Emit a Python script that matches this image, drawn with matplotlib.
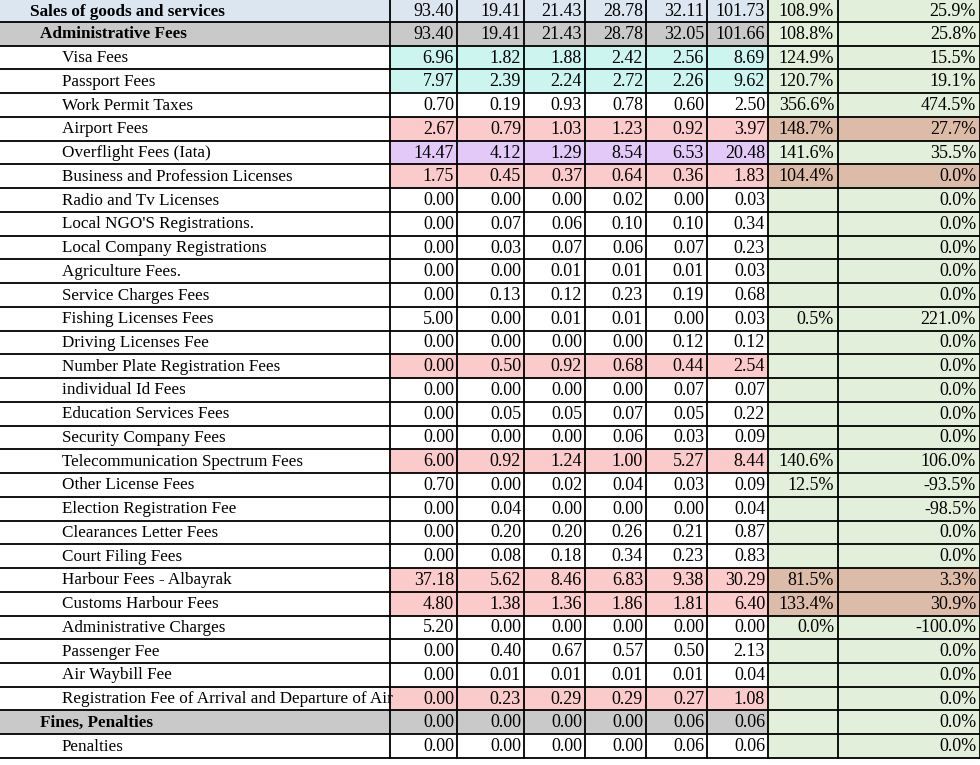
import matplotlib
matplotlib.use("Agg")
import matplotlib.pyplot as plt
from matplotlib.patches import Rectangle

labels = ["Sales of goods and services", "Administrative Fees", "Visa Fees", "Passport Fees",
          "Work Permit Taxes", "Airport Fees", "Overflight Fees (Iata)", "Business and Profession Licenses",
          "Radio and Tv Licenses", "Local NGO'S Registrations.", "Local Company Registrations",
          "Agriculture Fees.", "Service Charges Fees", "Fishing Licenses Fees", "Driving Licenses Fee",
          "Number Plate Registration Fees", "individual Id Fees", "Education Services Fees",
          "Security Company Fees", "Telecommunication Spectrum Fees", "Other License Fees",
          "Election Registration Fee", "Clearances Letter Fees", "Court Filing Fees",
          "Harbour Fees - Albayrak", "Customs Harbour Fees", "Administrative Charges", "Passenger Fee",
          "Air Waybill Fee", "Registration Fee of Arrival and Departure of Air", "Fines, Penalties", "Penalties"]
col1 = [93.40,93.40,6.96,7.97,0.70,2.67,14.47,1.75,0,0,0,0,0,5.00,0,0,0,0,0,6.00,0.70,0,0,0,37.18,4.80,5.20,0,0,0,0,0]
col2 = [19.41,19.41,1.82,2.39,0.19,0.79,4.12,0.45,0,0.07,0.03,0,0.13,0,0,0.50,0,0.05,0,0.92,0,0.04,0.20,0.08,5.62,1.38,0,0.40,0.01,0.23,0,0]
col3 = [21.43,21.43,1.88,2.24,0.93,1.03,1.29,0.37,0,0.06,0.07,0.01,0.12,0.01,0,0.92,0,0.05,0,1.24,0.02,0,0.20,0.18,8.46,1.36,0,0.67,0.01,0.29,0,0]
col4 = [28.78,28.78,2.42,2.72,0.78,1.23,8.54,0.64,0.02,0.10,0.06,0.01,0.23,0.01,0,0.68,0,0.07,0.06,1.00,0.04,0,0.26,0.34,6.83,1.86,0,0.57,0.01,0.29,0,0]
col5 = [32.11,32.05,2.56,2.26,0.60,0.92,6.53,0.36,0,0.10,0.07,0.01,0.19,0,0.12,0.44,0.07,0.05,0.03,5.27,0.03,0,0.21,0.23,9.38,1.81,0,0.50,0.01,0.27,0.06,0.06]
col6 = [101.73,101.66,8.69,9.62,2.50,3.97,20.48,1.83,0.03,0.34,0.23,0.03,0.68,0.03,0.12,2.54,0.07,0.22,0.09,8.44,0.09,0.04,0.87,0.83,30.29,6.40,0,2.13,0.04,1.08,0.06,0.06]
pct1 = [108.9,108.8,124.9,120.7,356.6,148.7,141.6,104.4,None,None,None,None,None,0.5,None,None,None,None,None,140.6,12.5,None,None,None,81.5,133.4,0.0,None,None,None,None,None]
pct2 = [25.9,25.8,15.5,19.1,474.5,27.7,35.5,0.0,0,0,0,0,0,221.0,0,0,0,0,0,106.0,-93.5,-98.5,0,0,3.3,30.9,-100.0,0,0,0,0,0]

indent = [30, 40] + [62]*28 + [40, 62]
bold = {0, 1, 30}
xb = [390, 457, 524, 585, 646, 707, 768, 838, 980]
h0, rh = 22, 23.74
def rowspan(i):
    if i == 0:
        return 0, h0
    a = h0 + (i-1)*rh
    return a, a+rh

BLUE, GRAY, CYAN, PINK, PURP, GREEN, BROWN = "#dce6f1", "#c9c9c9", "#ccf5f0", "#fbcaca", "#e2c9f7", "#e2efda", "#ddbba9"
pink_rows = {5, 7, 15, 19, 24, 25, 29}
num_fill = {0: BLUE, 1: GRAY, 30: GRAY, 2: CYAN, 3: CYAN, 6: PURP}
for r in pink_rows: num_fill[r] = PINK
brown_rows = {5, 7, 24, 25}

fig = plt.figure(figsize=(9.8, 7.65), dpi=100)
ax = fig.add_axes([0, 0, 1, 1])
ax.set_xlim(0, 980); ax.set_ylim(765, 0); ax.axis("off")
font = "Liberation Serif"
cols = [col1, col2, col3, col4, col5, col6]
n = len(labels)
for i in range(n):
    y0, y1 = rowspan(i)
    yc = (y0+y1)/2 + 0.5
    lf = {0: BLUE, 1: GRAY, 30: GRAY}.get(i)
    if lf:
        ax.add_patch(Rectangle((0, y0), xb[0], y1-y0, color=lf, lw=0))
    ax.text(indent[i], yc, labels[i], ha="left", va="center", fontsize=12.3, family=font,
            fontweight="bold" if i in bold else "normal")
    f = num_fill.get(i)
    for j, c in enumerate(cols):
        if f:
            ax.add_patch(Rectangle((xb[j], y0), xb[j+1]-xb[j], y1-y0, color=f, lw=0))
        ax.text(xb[j+1]-3, yc, f"{c[i]:.2f}", ha="right", va="center", fontsize=13, family=font)
    for k, p in enumerate([pct1, pct2]):
        fc = BROWN if i in brown_rows else GREEN
        ax.add_patch(Rectangle((xb[6+k], y0), xb[7+k]-xb[6+k], y1-y0, color=fc, lw=0))
        if p[i] is not None:
            ax.text(xb[7+k]-4, yc, f"{p[i]:.1f}%", ha="right", va="center", fontsize=13, family=font)
    ax.plot([0, 980], [y1, y1], color="black", lw=1.3)
for x in xb:
    ax.plot([x, x], [0, rowspan(n-1)[1]], color="black", lw=1.3)
fig.savefig("out.png", dpi=100)
